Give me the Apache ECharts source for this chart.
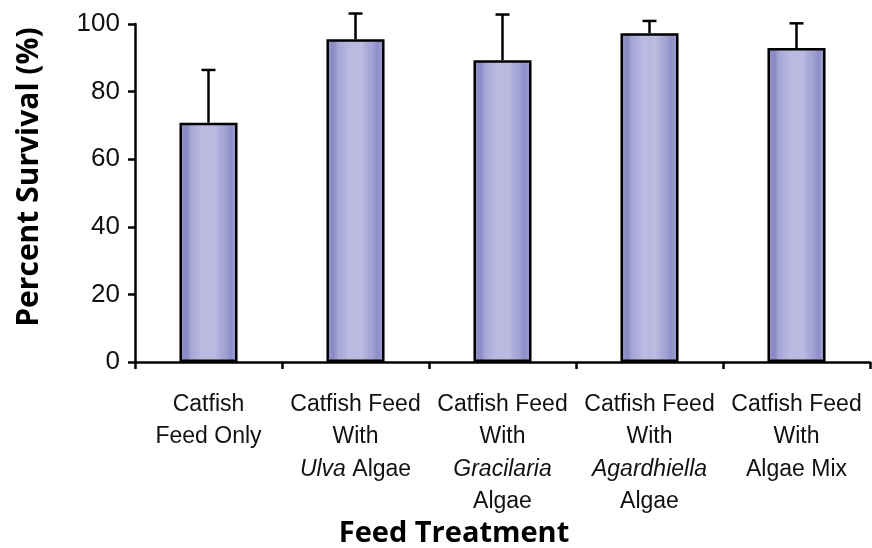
<!DOCTYPE html>
<html>
<head>
<meta charset="utf-8">
<script src="https://cdn.jsdelivr.net/npm/echarts@6/dist/echarts.min.js"></script>
<style>
html,body{margin:0;padding:0;background:#fff;}
#chart{width:872px;height:548px;}
</style>
</head>
<body>
<div id="chart"></div>
<script>
var categories = [
  'Catfish\nFeed Only',
  'Catfish Feed\nWith\nUlva Algae',
  'Catfish Feed\nWith\nGracilaria\nAlgae',
  'Catfish Feed\nWith\nAgardhiella\nAlgae',
  'Catfish Feed\nWith\nAlgae Mix'
];
var italicWords = ['Ulva', 'Gracilaria', 'Agardhiella'];
var survival = [70.8, 95.5, 89.3, 97.3, 92.9];
var errorPlus = [15.6, 7.6, 13.5, 3.6, 7.3];
var yTicks = [0, 20, 40, 60, 80, 100];
var yAxisTitle = 'Percent Survival (%)';
var xAxisTitle = 'Feed Treatment';

var labelFont = '"Liberation Sans", Arial, sans-serif';
var titleFont = '"Open Sans", "DejaVu Sans", sans-serif';

function formatCat(v) {
  return v.split('\n').map(function (line) {
    var out = line;
    italicWords.forEach(function (w) {
      if (out.indexOf(w) >= 0) {
        out = out.replace(w, '}{i|' + w + '}{n|');
      }
    });
    return '{n|' + out + '}';
  }).join('\n').replace(/\{n\|\}/g, '');
}

var barGradient = new echarts.graphic.LinearGradient(0, 0, 1, 0, [
  {offset: 0.00, color: '#7676b6'},
  {offset: 0.06, color: '#9292ca'},
  {offset: 0.12, color: '#8888c2'},
  {offset: 0.20, color: '#a6a6d6'},
  {offset: 0.30, color: '#b0b0dc'},
  {offset: 0.40, color: '#bbbbe2'},
  {offset: 0.50, color: '#b8b8e0'},
  {offset: 0.60, color: '#bcbce2'},
  {offset: 0.70, color: '#ababd9'},
  {offset: 0.80, color: '#a0a0d4'},
  {offset: 0.88, color: '#8e8eca'},
  {offset: 0.94, color: '#9a9ad0'},
  {offset: 1.00, color: '#8282c2'}
]);

var chart = echarts.init(document.getElementById('chart'), null, {renderer: 'canvas'});
chart.setOption({
  animation: false,
  backgroundColor: '#ffffff',
  grid: {left: 135, right: 2, top: 24, bottom: 186, containLabel: false},
  xAxis: {
    type: 'category',
    data: categories,
    boundaryGap: true,
    axisLine: {show: true, lineStyle: {color: '#000', width: 2.5}},
    axisTick: {show: true, alignWithLabel: false, length: 7, lineStyle: {color: '#000', width: 2.5}},
    axisLabel: {
      interval: 0,
      margin: 26,
      formatter: formatCat,
      rich: {
        n: {fontFamily: labelFont, fontSize: 23, color: '#111', lineHeight: 32.5},
        i: {fontFamily: labelFont, fontSize: 23, color: '#111', lineHeight: 32.5, fontStyle: 'italic'}
      }
    },
    splitLine: {show: false}
  },
  yAxis: {
    type: 'value',
    min: 0,
    max: 100,
    interval: 20,
    axisLine: {show: true, lineStyle: {color: '#000', width: 2.5}},
    axisTick: {show: true, length: 7, lineStyle: {color: '#000', width: 2.5}},
    axisLabel: {
      margin: 15,
      fontFamily: labelFont,
      fontSize: 26,
      color: '#111',
      formatter: function (v) { return yTicks.indexOf(v) >= 0 ? String(v) : ''; }
    },
    splitLine: {show: false}
  },
  series: [
    {
      type: 'bar',
      data: survival,
      barWidth: '39.5%',
      itemStyle: {color: barGradient, borderColor: '#000', borderWidth: 2.5},
      z: 2
    },
    {
      type: 'custom',
      clip: false,
      z: 3,
      data: survival.map(function (v, i) { return [i, v, v + errorPlus[i]]; }),
      renderItem: function (params, api) {
        var x = api.value(0);
        var base = api.coord([x, api.value(1)]);
        var top = api.coord([x, api.value(2)]);
        var half = 7;
        return {
          type: 'group',
          children: [
            {type: 'line', shape: {x1: base[0], y1: base[1], x2: top[0], y2: top[1]},
              style: {stroke: '#000', lineWidth: 2.5}},
            {type: 'line', shape: {x1: top[0] - half, y1: top[1], x2: top[0] + half, y2: top[1]},
              style: {stroke: '#000', lineWidth: 2.5}}
          ]
        };
      }
    }
  ],
  graphic: [
    {
      type: 'text',
      x: 29, y: 177,
      rotation: Math.PI / 2,
      style: {
        text: yAxisTitle,
        fontFamily: titleFont, fontWeight: 'bold', fontSize: 30,
        fill: '#000', align: 'center', verticalAlign: 'middle'
      }
    },
    {
      type: 'text',
      x: 454, y: 534,
      style: {
        text: xAxisTitle,
        fontFamily: titleFont, fontWeight: 'bold', fontSize: 29,
        fill: '#000', align: 'center', verticalAlign: 'middle'
      }
    }
  ]
});
</script>
</body>
</html>
